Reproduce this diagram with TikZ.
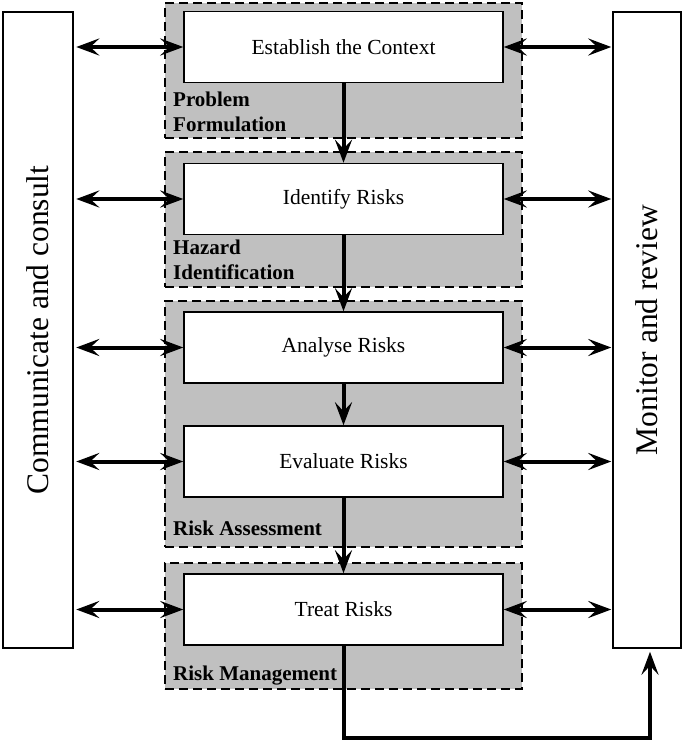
\documentclass[tikz,border=0pt]{standalone}
\usepackage{fontspec}
\setmainfont{Liberation Serif}
\usetikzlibrary{arrows.meta}
\definecolor{grpgray}{RGB}{192,192,192}
\begin{document}
\begin{tikzpicture}[x=1pt,y=-1pt,
  grp/.style={draw=black, fill=grpgray, dash pattern=on 9pt off 5pt, line width=2.2pt, inner sep=0pt},
  wbox/.style={draw=black, fill=white, line width=1.5pt, inner sep=0pt, minimum width=319pt, minimum height=71pt, font=\fontsize{21.5}{24}\selectfont},
  sidebox/.style={draw=black, fill=white, line width=1.5pt, inner sep=0pt, minimum height=636pt},
  sidetext/.style={rotate=90, font=\fontsize{31.5}{36}\selectfont, inner sep=0pt},
  glabel/.style={anchor=base west, align=left, inner sep=0pt, font=\fontsize{21}{24.5}\selectfont\bfseries},
  tip/.style={Stealth[length=23pt,width=17pt,inset=9pt]},
  conn/.style={line width=4pt, -{Stealth[length=23pt,width=17pt,inset=9pt]}},
  dconn/.style={line width=4pt, {Stealth[length=23pt,width=17pt,inset=9pt]}-{Stealth[length=23pt,width=17pt,inset=9pt]}}
]
\useasboundingbox (0,0) rectangle (683,742);

% side boxes
\node[sidebox, minimum width=70pt] (cc) at (38,330) {};
\node[sidetext] (cctext) at (cc.center) {Communicate and consult};
\node[sidebox, minimum width=68pt] (mr) at (647,330) {};
\node[sidetext] (mrtext) at (mr.center) {Monitor and review};

% groups
\node[grp, minimum width=357pt, minimum height=135pt] (g1) at (343.5,70.5) {};
\node[grp, minimum width=357pt, minimum height=135pt] (g2) at (343.5,219.5) {};
\node[grp, minimum width=357pt, minimum height=246pt] (g3) at (343.5,424) {};
\node[grp, minimum width=357pt, minimum height=126pt] (g4) at (343.5,626) {};

% group labels (anchor = baseline of last line)
\node[glabel] (l1) at (173,131) {Problem\\Formulation};
\node[glabel] (l2) at (173,279) {Hazard\\Identification};
\node[glabel] (l3) at (173,535) {Risk Assessment};
\node[glabel] (l4) at (173,680) {Risk Management};

% process boxes
\node[wbox] (est) at (343.5,47) {Establish the Context};
\node[wbox] (idf) at (343.5,199) {Identify Risks};
\node[wbox] (ana) at (343.5,347.5) {Analyse Risks};
\node[wbox] (eva) at (343.5,461.5) {Evaluate Risks};
\node[wbox] (trt) at (343.5,609.5) {Treat Risks};

% vertical flow
\draw[conn] (est.south) -- (idf.north);
\draw[conn] (idf.south) -- (ana.north);
\draw[conn] (ana.south) -- (eva.north);
\draw[conn] (eva.south) -- (trt.north);

% horizontal double arrows
\foreach \n in {est,idf,ana,eva,trt}{
  \draw[dconn, shorten <=2.5pt] (cc.east |- \n.west) -- (\n.west);
  \draw[dconn, shorten >=1pt] (\n.east) -- (mr.west |- \n.east);
}

% feedback
\coordinate (fb1) at (343.5,738);
\coordinate (fb2) at (650,738);
\draw[conn, shorten >=3pt] (trt.south) -- (fb1) -- (fb2) -- (fb2 |- mr.south);
\end{tikzpicture}
\end{document}
